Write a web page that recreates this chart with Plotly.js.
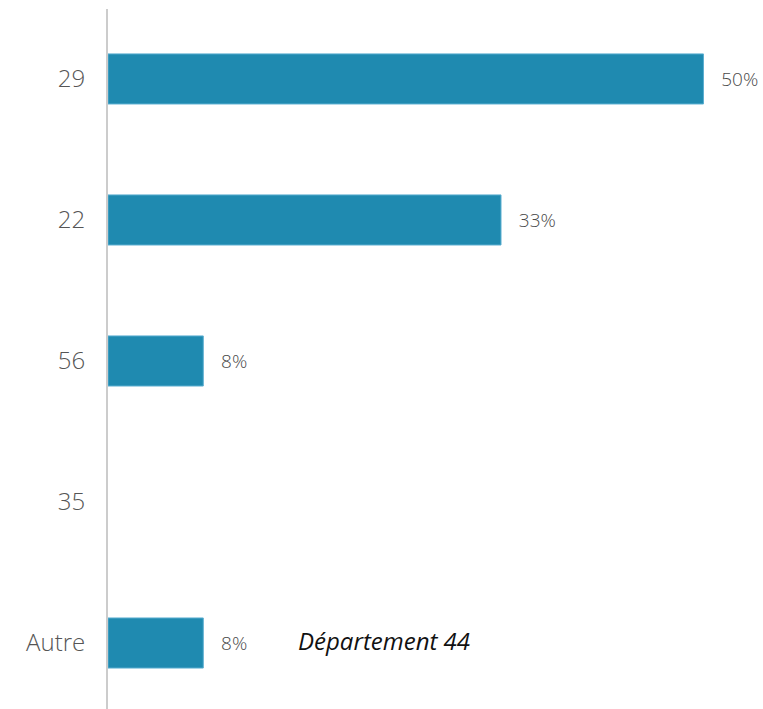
<!DOCTYPE html>
<html><head><meta charset="utf-8">
<script src="https://cdn.plot.ly/plotly-3.0.1.min.js"></script>
<style>html,body{margin:0;padding:0;background:#fff}#chart{width:763px;height:709px}</style>
</head><body><div id="chart"></div>
<script>
const categories = ['29', '22', '56', '35', 'Autre'];
const values = [50, 33, 8, 0, 8];
const labels = values.map(v => v > 0 ? '\u00a0\u00a0\u00a0' + v + '%' : '');
const note = 'Département 44';

const trace = {
  type: 'bar', orientation: 'h',
  y: categories, x: values,
  text: labels, textposition: 'outside', cliponaxis: false,
  textfont: {family: '"Open Sans", sans-serif', size: 19, color: '#4a4a4a', weight: 300},
  marker: {color: '#1f8ab0', line: {color: '#5aaed0', width: values.map(v => v > 0 ? 1 : 0)}},
  width: 0.355, hoverinfo: 'none'
};
const layout = {
  width: 763, height: 709,
  margin: {l: 108, r: 0, t: 9, b: 0},
  paper_bgcolor: '#fff', plot_bgcolor: '#fff',
  showlegend: false,
  font: {family: '"Open Sans", sans-serif'},
  xaxis: {range: [0, 55], visible: false, fixedrange: true},
  yaxis: {
    type: 'category', categoryorder: 'array', categoryarray: categories,
    range: [4.468, -0.496], showgrid: false, zeroline: false,
    showline: true, linecolor: '#cccccc', linewidth: 2,
    ticks: 'outside', ticklen: 16, tickcolor: 'rgba(0,0,0,0)',
    tickfont: {family: '"Open Sans", sans-serif', size: 24, color: '#555', weight: 300}
  },
  annotations: [{
    text: '<i>' + note + '</i>', xref: 'x', yref: 'y', x: 15.8, y: 'Autre',
    xanchor: 'left', yanchor: 'middle', yshift: 3, showarrow: false,
    font: {family: '"Open Sans", sans-serif', size: 24, color: '#111'}
  }]
};
Plotly.newPlot('chart', [trace], layout, {staticPlot: true});
</script></body></html>
